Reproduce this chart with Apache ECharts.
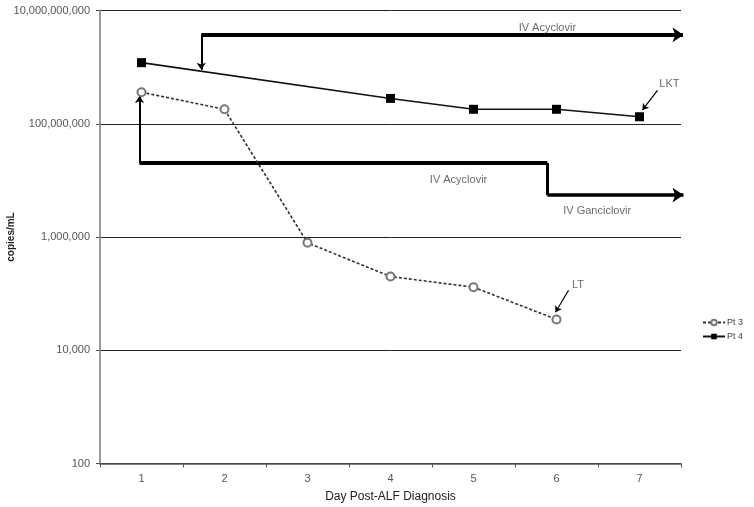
<!DOCTYPE html>
<html>
<head>
<meta charset="utf-8">
<script src="https://cdn.jsdelivr.net/npm/echarts@6/dist/echarts.min.js"></script>
<style>html,body{margin:0;padding:0;background:#fff}#c{width:754px;height:507px}</style>
</head>
<body>
<div id="c"></div>
<script>
// ---- data ----
var days = ['1','2','3','4','5','6','7'];
var pt3 = [3.6e8, 1.8e8, 7.9e5, 2.0e5, 1.3e5, 3.5e4, null];
var pt4 = [1.2e9, null, null, 2.8e8, 1.8e8, 1.8e8, 1.33e8];
var yTicks = [100, 1e4, 1e6, 1e8, 1e10];

// treatment arrows, in data coordinates [day, copies/mL]
var plainSegs = [
  {coords: [[0.976, 2.02e7], [5.89, 2.02e7]], w: 4},
  {coords: [[5.89, 2.02e7], [5.89, 5.5e6]], w: 3}
];
var arrowSegs = [
  {coords: [[1.72, 3.7e9], [1.72, 9.0e8]], w: 2, s: 7},
  {coords: [[1.72, 3.7e9], [7.53, 3.7e9]], w: 4, s: 11},
  {coords: [[0.976, 2.02e7], [0.976, 3.1e8]], w: 2, s: 7},
  {coords: [[5.89, 5.5e6], [7.53, 5.5e6]], w: 3.5, s: 11},
  {coords: [[7.217, 3.9e8], [7.036, 1.75e8]], w: 1.2, s: 6},
  {coords: [[6.145, 1.15e5], [5.988, 4.7e4]], w: 1.2, s: 6}
];
var notes = [
  {name: 'IV Acyclovir', value: [5.89, 4.9e9]},
  {name: 'IV Acyclovir', value: [4.82, 1.0e7]},
  {name: 'IV Ganciclovir', value: [6.49, 2.87e6]},
  {name: 'LKT', value: [7.36, 5.0e8]},
  {name: 'LT', value: [6.26, 1.41e5]}
];

var chart = echarts.init(document.getElementById('c'));
var font = 'Liberation Sans, Arial, sans-serif';

function segSeries(list, arrow) {
  return list.map(function (seg) {
    return {
      type: 'lines', coordinateSystem: 'cartesian2d', xAxisIndex: 1, yAxisIndex: 0,
      symbol: arrow ? ['none', 'arrow'] : ['none', 'none'],
      symbolSize: arrow ? seg.s : 0,
      silent: true, z: 5,
      lineStyle: {color: '#000', width: seg.w, opacity: 1, curveness: 0},
      data: [{coords: seg.coords}]
    };
  });
}

var series = [
  {
    name: 'Pt 3', type: 'line', data: pt3, xAxisIndex: 0,
    symbol: 'emptyCircle', symbolSize: 8,
    lineStyle: {color: '#333', width: 1.6, type: [3, 2]},
    itemStyle: {color: '#777', borderColor: '#777', borderWidth: 1.2},
    z: 6
  },
  {
    name: 'Pt 4', type: 'line', data: pt4, xAxisIndex: 0, connectNulls: true,
    symbol: 'rect', symbolSize: 9,
    lineStyle: {color: '#111', width: 1.6},
    itemStyle: {color: '#000'},
    z: 6
  },
  {
    type: 'scatter', xAxisIndex: 1, yAxisIndex: 0, symbolSize: 0, silent: true, z: 7,
    data: notes,
    label: {show: true, position: 'inside', formatter: '{b}', color: '#444', fontSize: 11, fontFamily: font}
  }
].concat(segSeries(plainSegs, false)).concat(segSeries(arrowSegs, true));

chart.setOption({
  animation: false,
  backgroundColor: '#fff',
  grid: {left: 100, right: 73, top: 10.5, bottom: 43.5, containLabel: false, outerBoundsMode: 'none'},
  legend: {
    orient: 'vertical', right: 6, top: 313, itemGap: 5, itemWidth: 22, itemHeight: 7,
    data: ['Pt 3', 'Pt 4'],
    textStyle: {fontSize: 9, color: '#444', fontFamily: font, padding: [0, 0, 0, -3]}
  },
  xAxis: [
    {
      type: 'category', data: days, boundaryGap: true,
      axisLine: {lineStyle: {color: '#555', width: 1.5}},
      axisTick: {show: true, length: 4, lineStyle: {color: '#555'}},
      axisLabel: {color: '#555', fontSize: 11, margin: 10, fontFamily: font},
      splitLine: {show: false},
      name: 'Day Post-ALF Diagnosis', nameLocation: 'middle', nameGap: 27, nameMoveOverlap: false,
      nameTextStyle: {color: '#222', fontSize: 12, fontFamily: font}
    },
    {type: 'value', min: 0.5, max: 7.5, show: false}
  ],
  yAxis: {
    type: 'log', logBase: 100, min: yTicks[0], max: yTicks[yTicks.length - 1],
    axisLine: {show: true, lineStyle: {color: '#999', width: 2}},
    axisTick: {show: true, length: 4, lineStyle: {color: '#555'}},
    axisLabel: {
      color: '#555', fontSize: 11, margin: 10, fontFamily: font,
      formatter: function (v) { return Math.round(v).toLocaleString('en-US'); }
    },
    splitLine: {show: true, lineStyle: {color: '#222', width: 1}},
    name: 'copies/mL', nameLocation: 'middle', nameGap: 84, nameMoveOverlap: false,
    nameTextStyle: {color: '#222', fontSize: 10, fontWeight: 'bold', fontFamily: font}
  },
  series: series
});
</script>
</body>
</html>
